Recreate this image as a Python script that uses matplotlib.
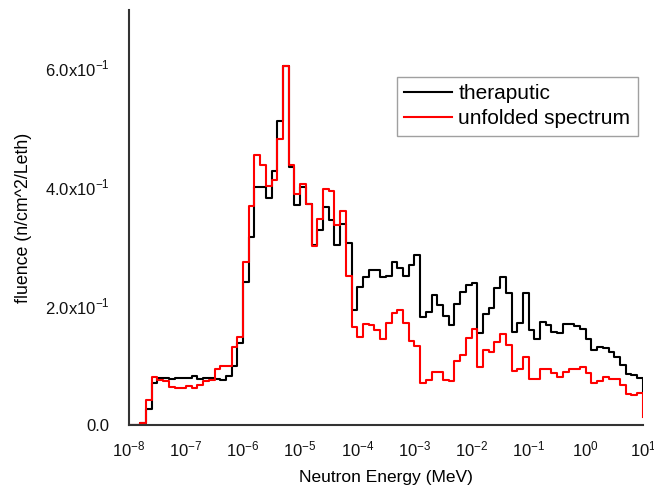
import numpy as np
import matplotlib
matplotlib.use("Agg")
import matplotlib.pyplot as plt

plt.rcParams['font.family'] = ['Liberation Sans', 'DejaVu Sans']
plt.rcParams['mathtext.fontset'] = 'custom'
plt.rcParams['mathtext.rm'] = 'Liberation Sans'

# 10 bins per decade, 1e-8 .. 1e1 MeV
edges = np.logspace(-8, 1, 91)

theraputic = [
    0.0, 0.0, 0.003, 0.028, 0.070, 0.079, 0.079, 0.078, 0.079, 0.080,
    0.080, 0.082, 0.078, 0.079, 0.079, 0.077, 0.076, 0.083, 0.100, 0.138,
    0.241, 0.315, 0.400, 0.400, 0.382, 0.427, 0.510, 0.603, 0.433, 0.370,
    0.400, 0.371, 0.302, 0.328, 0.366, 0.345, 0.303, 0.337, 0.305, 0.193,
    0.232, 0.249, 0.260, 0.260, 0.248, 0.250, 0.274, 0.263, 0.250, 0.269,
    0.286, 0.182, 0.190, 0.218, 0.201, 0.184, 0.168, 0.203, 0.224, 0.235,
    0.239, 0.155, 0.186, 0.196, 0.230, 0.249, 0.221, 0.157, 0.171, 0.221,
    0.160, 0.145, 0.174, 0.168, 0.157, 0.154, 0.170, 0.170, 0.166, 0.162,
    0.145, 0.126, 0.132, 0.129, 0.123, 0.115, 0.101, 0.086, 0.084, 0.080,
]
theraputic_end = 0.058

unfolded = [
    0.0, 0.0, 0.004, 0.042, 0.081, 0.076, 0.074, 0.064, 0.062, 0.062,
    0.066, 0.062, 0.068, 0.074, 0.076, 0.095, 0.100, 0.100, 0.131, 0.148,
    0.274, 0.367, 0.454, 0.437, 0.401, 0.412, 0.481, 0.602, 0.437, 0.388,
    0.405, 0.372, 0.300, 0.346, 0.397, 0.393, 0.336, 0.360, 0.251, 0.165,
    0.148, 0.170, 0.168, 0.160, 0.145, 0.171, 0.189, 0.194, 0.171, 0.142,
    0.133, 0.071, 0.076, 0.090, 0.090, 0.076, 0.075, 0.107, 0.118, 0.147,
    0.162, 0.098, 0.127, 0.123, 0.140, 0.153, 0.134, 0.091, 0.095, 0.114,
    0.078, 0.077, 0.094, 0.095, 0.088, 0.081, 0.090, 0.095, 0.095, 0.098,
    0.087, 0.071, 0.075, 0.081, 0.078, 0.078, 0.067, 0.053, 0.050, 0.054,
]
unfolded_end = 0.014

yticks = [0.0, 0.2, 0.4, 0.6]
ylabels = ['0.0', r'2.0x10$^{\mathregular{-1}}$', r'4.0x10$^{\mathregular{-1}}$',
           r'6.0x10$^{\mathregular{-1}}$']

fig = plt.figure(figsize=(6.54, 4.91), dpi=100)
ax = fig.add_axes([0.197, 0.134, 0.786, 0.846])

ax.step(edges, np.append(theraputic, theraputic_end), where='post',
        color='black', lw=1.5, label='theraputic')
ax.step(edges, np.append(unfolded, unfolded_end), where='post',
        color='red', lw=1.5, label='unfolded spectrum')

ax.set_xscale('log')
ax.set_xlim(1e-8, 1e1)
ax.set_ylim(0, 0.697)
ax.set_xticks(10.0 ** np.arange(-8, 2))
ax.xaxis.set_minor_locator(matplotlib.ticker.NullLocator())
ax.set_yticks(yticks)
ax.set_yticklabels(ylabels)
ax.tick_params(length=0, labelsize=12, colors='#111111')
ax.tick_params(axis='x', pad=10)
ax.tick_params(axis='y', pad=14)

for s in ['top', 'right']:
    ax.spines[s].set_visible(False)
for s in ['left', 'bottom']:
    ax.spines[s].set_color('#333333')
    ax.spines[s].set_linewidth(1.5)

ax.set_xlabel('Neutron Energy (MeV)', fontsize=12.5, labelpad=8)
ax.set_ylabel('fluence (n/cm^2/Leth)', fontsize=12.8, labelpad=9)

leg = ax.legend(loc='upper right', bbox_to_anchor=(0.99, 0.838), fontsize=15,
                frameon=True, fancybox=False, edgecolor='#888888',
                handlelength=2.3, handletextpad=0.3, borderpad=0.35,
                labelspacing=0.28, borderaxespad=0)
leg.get_frame().set_linewidth(1.0)

fig.savefig('out.png', dpi=100)
